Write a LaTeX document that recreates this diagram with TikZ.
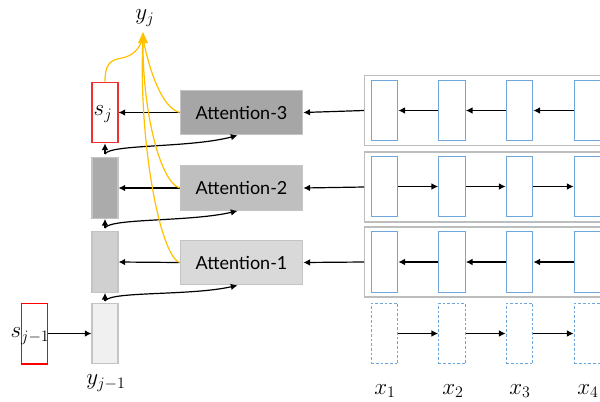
\documentclass[tikz,border=0pt]{standalone}
\usepackage{fontspec}
\setmainfont{Lato}
\usetikzlibrary{arrows.meta}
\definecolor{att3}{HTML}{A6A6A6}
\definecolor{att2}{HTML}{BFBFBF}
\definecolor{att1}{HTML}{D9D9D9}
\definecolor{st2}{HTML}{ABABAB}
\definecolor{st1}{HTML}{D0D0D0}
\definecolor{st0}{HTML}{F0F0F0}
\definecolor{edgegray}{HTML}{C4C4C4}
\definecolor{framegray}{HTML}{BDBDBD}
\definecolor{cellblue}{HTML}{6FA6DC}
\definecolor{yel}{HTML}{FFC000}
\definecolor{redline}{HTML}{F03030}
\tikzset{
  arr/.style={draw=black, line width=0.9pt, -{Latex[length=5pt,width=5pt]}},
  yl/.style={draw=yel, line width=0.9pt},
  state/.style={draw=edgegray, line width=0.8pt, minimum width=19.5pt, minimum height=45.5pt, inner sep=0pt},
  redbox/.style={draw=redline, fill=white, line width=0.8pt, minimum width=19.5pt, minimum height=45.5pt, inner sep=0pt},
  attbox/.style={draw=edgegray, line width=0.8pt, minimum width=92pt, minimum height=33.5pt, inner sep=0pt, font=\fontsize{13.5}{16}\selectfont},
  frame/.style={draw=framegray, line width=0.9pt, fill=white, minimum width=180pt, minimum height=52.5pt, inner sep=0pt},
  cell/.style={draw=cellblue, line width=0.8pt, fill=white, minimum width=20pt, minimum height=45.5pt, inner sep=0pt},
  dcell/.style={cell, dash pattern=on 2pt off 1.5pt},
  mlab/.style={font=\fontsize{17}{20}\selectfont, inner sep=0pt},
}
\begin{document}
\begin{tikzpicture}[x=0.75pt,y=-0.75pt]
\useasboundingbox (0,0) rectangle (600,401);
\clip (0,0) rectangle (600,401);
% encoder frames
\node[frame, anchor=west] (f1) at (364,110.5) {};
\node[frame, anchor=west] (f2) at (364,187) {};
\node[frame, anchor=west] (f3) at (364,262) {};
% cells
\foreach \c/\x in {1/384.5,2/452,3/519.5,4/587.5}{
  \node[cell] (b1\c) at (\x,110.5) {};
  \node[cell] (b2\c) at (\x,186.5) {};
  \node[cell] (b3\c) at (\x,262) {};
  \node[dcell] (e\c) at (\x,333.5) {};
}
% chains
\draw[arr] (b12.west) -- (b11.east);
\draw[arr] (b13.west) -- (b12.east);
\draw[arr] (b14.west) -- (b13.east);
\draw[arr] (b21.east) -- (b22.west);
\draw[arr] (b22.east) -- (b23.west);
\draw[arr] (b23.east) -- (b24.west);
\draw[arr] (b32.west) -- (b31.east);
\draw[arr] (b33.west) -- (b32.east);
\draw[arr] (b34.west) -- (b33.east);
\draw[arr] (e1.east) -- (e2.west);
\draw[arr] (e2.east) -- (e3.west);
\draw[arr] (e3.east) -- (e4.west);
% x labels
\node[mlab] (x1) at (385,391) {$x_1$};
\node[mlab] (x2) at (453,391) {$x_2$};
\node[mlab] (x3) at (520,391) {$x_3$};
\node[mlab] (x4) at (588,391) {$x_4$};
% attention boxes
\node[attbox, fill=att3] (a3) at (241.5,112.5) {Attention-3};
\node[attbox, fill=att2] (a2) at (241.5,188) {Attention-2};
\node[attbox, fill=att1] (a1) at (241.5,262.5) {Attention-1};
\draw[arr] (f1.west) -- (a3.east);
\draw[arr] (f2.west) -- (a2.east);
\draw[arr] (f3.west) -- (a1.east);
% decoder states
\node[redbox] (sj) at (105,112.5) {};
\node[mlab] (sjl) at (103,114) {$s_j$};
\node[state, fill=st2] (h2) at (105,188) {};
\node[state, fill=st1] (h1) at (105,262) {};
\node[state, fill=st0] (h0) at (105,333.5) {};
\node[redbox, draw=red, line width=1pt] (sp) at (34.5,333.5) {};
\node[mlab, text=black] (spl) at (30,336) {$s_{j-1}$};
\node[mlab] (y0) at (106,383) {$y_{j-1}$};
\node[mlab] (yj) at (145,18) {$y_j$};
\draw[arr] (sp.east) -- (h0.west);
\draw[arr] (a3.west) -- (sj.east);
\draw[arr] (a2.west) -- (h2.east);
\draw[arr] (a1.west) -- (h1.east);
% junctions
\coordinate (j1) at (105,301);
\coordinate (j2) at (105,228);
\coordinate (j3) at (105,154);
\draw[arr] (j1) -- (h1.south);
\draw[arr] (j2) -- (h2.south);
\draw[arr] (j3) -- (sj.south);
\draw[arr] (j1) .. controls (110,291) and (190,296) .. ([xshift=-3]a1.south);
\draw[arr] (j2) .. controls (110,218) and (190,222) .. ([xshift=-3]a2.south);
\draw[arr] (j3) .. controls (110,144) and (190,148) .. ([xshift=-3]a3.south);
% yellow
\coordinate (yt) at (143,38);
\draw[yl] (a3.west) .. controls (162,108) and (149,70) .. (yt);
\draw[yl] (a2.west) .. controls (160,182) and (142,110) .. (yt);
\draw[yl] (a1.west) .. controls (160,256) and (138,140) .. (yt);
\draw[yl] (sj.north) .. controls (105,64) and (110,60) .. (122,58) .. controls (132,56) and (139,50) .. (yt);
\fill[yel] (143,32) -- (138,43) -- (148,43) -- cycle;
\end{tikzpicture}
\end{document}
